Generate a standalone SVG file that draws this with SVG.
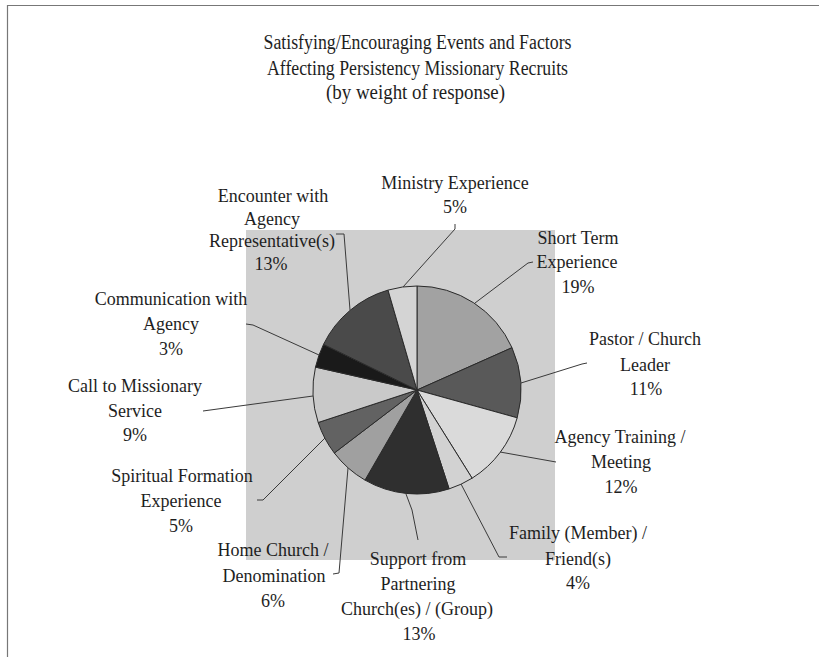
<svg xmlns="http://www.w3.org/2000/svg" width="819" height="657" viewBox="0 0 819 657">
<style>
  text { font-family: 'Liberation Serif', 'DejaVu Serif', 'Noto Serif', serif; font-size: 18px; fill: #1e1e1e; text-anchor: middle; }
  .title { font-size: 20px; }
  .slice { stroke: #2a2a2a; stroke-width: 1; }
  .leader { fill: none; stroke: #3a3a3a; stroke-width: 1; }
  .frame { fill: none; stroke: #777; stroke-width: 1.2; }
</style>
<rect x="0" y="0" width="819" height="657" fill="#ffffff"/>
<g id="frame">
  <path class="frame" d="M7.5,657 L7.5,5.5 L819,5.5"/>
</g>
<g id="title" font-family="'Liberation Serif', 'DejaVu Serif', serif">
  <text class="title" x="417.5" y="49" textLength="308" lengthAdjust="spacingAndGlyphs">Satisfying/Encouraging Events and Factors</text>
  <text class="title" x="417.5" y="75" textLength="301" lengthAdjust="spacingAndGlyphs">Affecting Persistency Missionary Recruits</text>
  <text class="title" x="415.5" y="99" textLength="179" lengthAdjust="spacingAndGlyphs">(by weight of response)</text>
</g>
<rect id="plot-area" x="246" y="230" width="309" height="330" fill="#cfcfcf"/>
<g id="pie">
  <g id="slice-short-term"><path class="slice" fill="#a2a2a2" d="M417,390 L417,286 A104,104 0 0 1 512.0,347.7 Z"/></g>
  <g id="slice-pastor"><path class="slice" fill="#595959" d="M417,390 L512.0,347.7 A104,104 0 0 1 517.2,417.8 Z"/></g>
  <g id="slice-agency-training"><path class="slice" fill="#dadada" d="M417,390 L517.2,417.8 A104,104 0 0 1 472.1,478.2 Z"/></g>
  <g id="slice-family"><path class="slice" fill="#d2d2d2" d="M417,390 L472.1,478.2 A104,104 0 0 1 449.1,488.9 Z"/></g>
  <g id="slice-support"><path class="slice" fill="#2f2f2f" d="M417,390 L449.1,488.9 A104,104 0 0 1 365.0,480.1 Z"/></g>
  <g id="slice-home-church"><path class="slice" fill="#a0a0a0" d="M417,390 L365.0,480.1 A104,104 0 0 1 334.3,453.0 Z"/></g>
  <g id="slice-spiritual"><path class="slice" fill="#626262" d="M417,390 L334.3,453.0 A104,104 0 0 1 318.2,422.5 Z"/></g>
  <g id="slice-call"><path class="slice" fill="#c9c9c9" d="M417,390 L318.2,422.5 A104,104 0 0 1 315.5,367.1 Z"/></g>
  <g id="slice-communication"><path class="slice" fill="#1a1a1a" d="M417,390 L315.5,367.1 A104,104 0 0 1 323.5,344.4 Z"/></g>
  <g id="slice-encounter"><path class="slice" fill="#4a4a4a" d="M417,390 L323.5,344.4 A104,104 0 0 1 388.0,290.1 Z"/></g>
  <g id="slice-ministry"><path class="slice" fill="#d4d4d4" d="M417,390 L388.0,290.1 A104,104 0 0 1 417,286 Z"/></g>
</g>
<g id="connectors">
  <path class="leader" d="M455,224 L455,229 L403,287"/>
  <path class="leader" d="M533,262 L528,263 L475,303"/>
  <path class="leader" d="M587,363 L582,364 L521,383"/>
  <path class="leader" d="M556,462 L500,452"/>
  <path class="leader" d="M507,557 L499,557 L461,484"/>
  <path class="leader" d="M406,494 L412,510 L418,540"/>
  <path class="leader" d="M333,574 L339,573 L348,468"/>
  <path class="leader" d="M257,500 L263,500 L325,438"/>
  <path class="leader" d="M203,411 L313,396"/>
  <path class="leader" d="M246,324 L253,325 L319,355"/>
  <path class="leader" d="M336,234 L344,234 L350,310"/>
</g>
<g id="labels" font-family="'Liberation Serif', 'DejaVu Serif', serif">
<g id="label-ministry">
  <text x="455" y="189">Ministry Experience</text>
  <text x="455" y="213">5%</text>
</g>
<g id="label-encounter">
  <text x="273" y="202">Encounter with</text>
  <text x="272" y="225">Agency</text>
  <text x="272" y="247">Representative(s)</text>
  <text x="271" y="270">13%</text>
</g>
<g id="label-short-term">
  <text x="578" y="244">Short Term</text>
  <text x="577" y="268">Experience</text>
  <text x="578" y="293">19%</text>
</g>
<g id="label-pastor">
  <text x="645" y="345">Pastor / Church</text>
  <text x="645" y="371">Leader</text>
  <text x="646" y="395">11%</text>
</g>
<g id="label-agency-training">
  <text x="620" y="443">Agency Training /</text>
  <text x="621" y="468">Meeting</text>
  <text x="621" y="493">12%</text>
</g>
<g id="label-family">
  <text x="578" y="539">Family (Member) /</text>
  <text x="578" y="565">Friend(s)</text>
  <text x="578" y="589">4%</text>
</g>
<g id="label-support">
  <text x="418" y="565">Support from</text>
  <text x="418" y="590">Partnering</text>
  <text x="417" y="615">Church(es) / (Group)</text>
  <text x="419" y="640">13%</text>
</g>
<g id="label-home-church">
  <text x="273" y="556">Home Church /</text>
  <text x="274" y="582">Denomination</text>
  <text x="273" y="607">6%</text>
</g>
<g id="label-spiritual">
  <text x="182" y="482">Spiritual Formation</text>
  <text x="181" y="507">Experience</text>
  <text x="181" y="532">5%</text>
</g>
<g id="label-call">
  <text x="135" y="392">Call to Missionary</text>
  <text x="135" y="417">Service</text>
  <text x="135" y="441">9%</text>
</g>
<g id="label-communication">
  <text x="171" y="305">Communication with</text>
  <text x="171" y="330">Agency</text>
  <text x="171" y="355">3%</text>
</g>
</g>
</svg>
